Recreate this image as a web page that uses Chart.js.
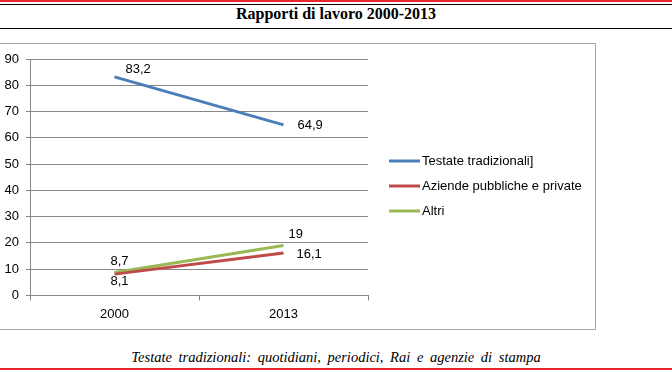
<!DOCTYPE html>
<html>
<head>
    <title>Rapporti di lavoro 2000-2013</title>
    <script src="https://cdn.jsdelivr.net/npm/chart.js"></script>
    <style>
        body { margin: 0; width: 672px; height: 372px; position: relative; overflow: hidden; background: #fff; }
        .rule { position: absolute; left: 0; width: 672px; }
        #title { position: absolute; left: 0; top: 5px; width: 672px; text-align: center;
                 font: bold 16px "Liberation Serif", serif; color: #000; }
        #box { position: absolute; left: -2px; top: 43px; width: 596px; height: 285px; border: 1px solid #a6a6a6; }
        #chart { position: absolute; left: 2px; top: 0; }
        #note { position: absolute; left: 0; top: 349px; width: 672px; text-align: center;
                font: italic 14.5px "Liberation Serif", serif; color: #000; word-spacing: 3px; }
    </style>
</head>
<body>
    <div class="rule" style="top:0; height:2px; background:#e8262a"></div>
    <div class="rule" style="top:4px; height:1px; background:#000"></div>
    <div id="title">Rapporti di lavoro 2000-2013</div>
    <div class="rule" style="top:28px; height:1px; background:#000"></div>
    <div id="box"><canvas id="chart" width="595" height="285"></canvas></div>
    <div id="note">Testate tradizionali:  quotidiani, periodici,  Rai e agenzie di stampa</div>
    <div class="rule" style="top:368px; height:2px; background:#e8262a"></div>
    <script>
        const years = ['2000', '2013'];
        const seriesNames = ['Testate tradizionali]', 'Aziende pubbliche e private', 'Altri'];
        const testate = [83.2, 64.9];
        const aziende = [8.1, 16.1];
        const altri = [8.7, 19];
        const yTicks = [0, 10, 20, 30, 40, 50, 60, 70, 80, 90];

        const colors = ['#4a7ebb', '#be4b48', '#98b954'];
        // label offsets (dx, dy, align) per series / point
        const labelPos = [
            [[11, -7, 'left'], [14, 0, 'left']],
            [[5, 7, 'center'], [13, 1, 'left']],
            [[5, -11, 'center'], [5, -11, 'left']]
        ];

        const valueLabels = {
            id: 'valueLabels',
            afterDatasetsDraw(chart) {
                const ctx = chart.ctx;
                ctx.save();
                ctx.font = '13px "Liberation Sans", sans-serif';
                ctx.fillStyle = '#000';
                ctx.textBaseline = 'middle';
                chart.data.datasets.forEach((ds, i) => {
                    chart.getDatasetMeta(i).data.forEach((pt, j) => {
                        const p = labelPos[i][j];
                        ctx.textAlign = p[2];
                        ctx.fillText(String(ds.data[j]).replace('.', ','), pt.x + p[0], pt.y + p[1]);
                    });
                });
                ctx.restore();
            }
        };

        const sideLegend = {
            id: 'sideLegend',
            afterDraw(chart) {
                const ctx = chart.ctx;
                ctx.save();
                ctx.font = '13px "Liberation Sans", sans-serif';
                ctx.textBaseline = 'middle';
                ctx.textAlign = 'left';
                chart.data.datasets.forEach((ds, i) => {
                    const y = 117 + i * 25;
                    ctx.strokeStyle = ds.borderColor;
                    ctx.lineWidth = 3;
                    ctx.beginPath();
                    ctx.moveTo(388, y);
                    ctx.lineTo(419, y);
                    ctx.stroke();
                    ctx.fillStyle = '#000';
                    ctx.fillText(ds.label, 421, y);
                });
                ctx.restore();
            }
        };

        const ctx = document.getElementById('chart').getContext('2d');
        new Chart(ctx, {
            type: 'line',
            data: {
                labels: years,
                datasets: [
                    { label: seriesNames[0], data: testate, borderColor: colors[0] },
                    { label: seriesNames[1], data: aziende, borderColor: colors[1] },
                    { label: seriesNames[2], data: altri, borderColor: colors[2] }
                ]
            },
            options: {
                responsive: false,
                animation: false,
                elements: {
                    line: { borderWidth: 3, tension: 0 },
                    point: { radius: 0 }
                },
                layout: { padding: { left: 0, top: 15, right: 228, bottom: 1 } },
                plugins: {
                    legend: { display: false },
                    tooltip: { enabled: false }
                },
                scales: {
                    x: {
                        offset: true,
                        grid: { offset: true, drawOnChartArea: false, tickLength: 5, color: '#878787' },
                        border: { color: '#878787' },
                        ticks: { color: '#000', padding: 6, font: { family: 'Liberation Sans', size: 13 } }
                    },
                    y: {
                        min: 0,
                        max: 90,
                        afterBuildTicks: s => { s.ticks = yTicks.map(v => ({ value: v })); },
                        afterFit: s => { s.width = 29; },
                        grid: { tickLength: 4, color: '#878787' },
                        border: { color: '#878787' },
                        ticks: { color: '#000', padding: 7, font: { family: 'Liberation Sans', size: 13 } }
                    }
                }
            },
            plugins: [valueLabels, sideLegend]
        });
    </script>
</body>
</html>
